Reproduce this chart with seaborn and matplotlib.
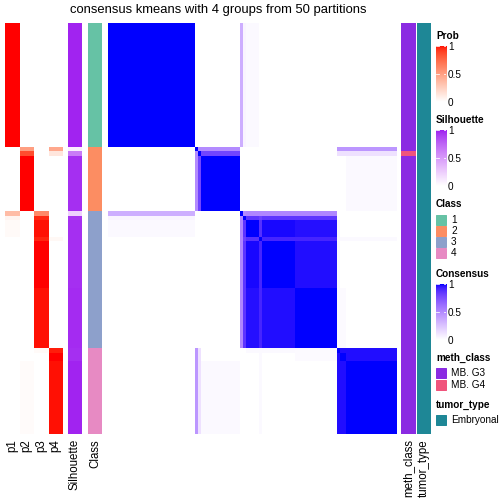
import numpy as np
import matplotlib
matplotlib.use("Agg")
import matplotlib.pyplot as plt
from matplotlib.colors import ListedColormap
from matplotlib.patches import Rectangle
import seaborn as sns

# sample blocks in display order (sub-groups of the 4 classes)
block_names = ["1", "2x", "2y", "2", "3x", "3y", "3a", "3b0", "3b", "3c", "4x", "4a", "4b"]
block_sizes = [29, 1, 1, 13, 1, 1, 4, 1, 11, 14, 1, 2, 17]
block_class = [1, 2, 2, 2, 3, 3, 3, 3, 3, 3, 4, 4, 4]
prob_p1 = [1.0, 0, 0, 0, 0.35, 0.06, 0.03, 0, 0, 0, 0, 0, 0]
prob_p2 = [0, 0.5, 0.85, 1.0, 0, 0, 0, 0, 0, 0, 0, 0, 0.02]
prob_p3 = [0, 0, 0, 0, 0.6, 0.95, 0.985, 0.96, 1.0, 0.985, 0.03, 0, 0]
prob_p4 = [0, 0.45, 0.13, 0, 0, 0, 0, 0.04, 0, 0, 0.97, 1.0, 0.985]
silhouette = [0.99, 0.08, 0.65, 0.96, 0.22, 0.94, 0.96, 0.96, 0.96, 0.97, 0.96, 0.96, 0.99]
meth_class = ["MB. G3", "MB. G3", "MB. G4", "MB. G3", "MB. G3", "MB. G3", "MB. G3",
              "MB. G3", "MB. G3", "MB. G3", "MB. G3", "MB. G3", "MB. G3"]
tumor_type = ["Embryonal"] * 13

# consensus between blocks (symmetric, 1 inside a block, 0 if not listed)
block_consensus = {
    ("1", "3x"): 0.35, ("1", "3y"): 0.05, ("1", "3a"): 0.03,
    ("2x", "2y"): 0.5, ("2x", "2"): 0.5,
    ("2x", "4x"): 0.45, ("2x", "4a"): 0.45, ("2x", "4b"): 0.45,
    ("2y", "2"): 0.8, ("2y", "4x"): 0.13, ("2y", "4a"): 0.13, ("2y", "4b"): 0.13,
    ("2", "4b"): 0.03,
    ("3x", "3y"): 0.5, ("3x", "3a"): 0.52, ("3x", "3b0"): 0.52, ("3x", "3b"): 0.52, ("3x", "3c"): 0.52,
    ("3y", "3a"): 0.86, ("3y", "3b0"): 0.82, ("3y", "3b"): 0.86, ("3y", "3c"): 0.86,
    ("3a", "3b0"): 0.88, ("3a", "3b"): 0.985, ("3a", "3c"): 0.975,
    ("3b0", "3b"): 0.92, ("3b0", "3c"): 0.92, ("3b", "3c"): 0.98,
    ("3b0", "4x"): 0.03, ("3b0", "4a"): 0.03, ("3b0", "4b"): 0.03,
    ("3c", "4x"): 0.02, ("3c", "4a"): 0.02,
    ("4x", "3a"): 0.03, ("4x", "3b"): 0.03,
    ("4x", "4a"): 0.98, ("4x", "4b"): 0.98, ("4a", "4b"): 0.98,
}

class_colors = ["#66C2A5", "#FC8D62", "#8DA0CB", "#E78AC3"]
meth_levels = ["MB. G3", "MB. G4"]
meth_colors = ["#8A2BE2", "#F0547C"]
tumor_levels = ["Embryonal"]
tumor_colors = ["#1E8796"]


def _to_lab(rgb):
    c = np.asarray(rgb, float)
    c = np.where(c <= 0.04045, c / 12.92, ((c + 0.055) / 1.055) ** 2.4)
    m = np.array([[0.4124, 0.3576, 0.1805], [0.2126, 0.7152, 0.0722], [0.0193, 0.1192, 0.9505]])
    xyz = m @ c / np.array([0.95047, 1.0, 1.08883])
    f = np.where(xyz > 0.008856, np.cbrt(xyz), 7.787 * xyz + 16 / 116)
    return np.array([116 * f[1] - 16, 500 * (f[0] - f[1]), 200 * (f[1] - f[2])])


def _from_lab(lab):
    L, a, b = lab
    fy = (L + 16) / 116
    fx = fy + a / 500
    fz = fy - b / 200
    f = np.array([fx, fy, fz])
    xyz = np.where(f ** 3 > 0.008856, f ** 3, (f - 16 / 116) / 7.787) * np.array([0.95047, 1.0, 1.08883])
    m = np.array([[3.2406, -1.5372, -0.4986], [-0.9689, 1.8758, 0.0415], [0.0557, -0.2040, 1.0570]])
    c = m @ xyz
    c = np.where(c <= 0.0031308, 12.92 * c, 1.055 * np.clip(c, 0, None) ** (1 / 2.4) - 0.055)
    return np.clip(c, 0, 1)


def lab_cmap(hi, n=256):
    """white -> hi, interpolated in LAB like colorRamp2."""
    lo_lab = _to_lab([1, 1, 1])
    hi_lab = _to_lab(matplotlib.colors.to_rgb(hi))
    cols = [_from_lab(lo_lab + t * (hi_lab - lo_lab)) for t in np.linspace(0, 1, n)]
    return ListedColormap(cols)


prob_cmap = lab_cmap("#FF0000")
sil_cmap = lab_cmap("#A020F0")
cons_cmap = lab_cmap("#0000FF")

# expand blocks to samples
sizes = np.array(block_sizes)
nb = len(block_names)
bmat = np.eye(nb)
for (a, b), v in block_consensus.items():
    i, j = block_names.index(a), block_names.index(b)
    bmat[i, j] = bmat[j, i] = v
idx = np.repeat(np.arange(nb), sizes)
consensus = bmat[np.ix_(idx, idx)]
prob = np.column_stack([np.repeat(p, sizes) for p in (prob_p1, prob_p2, prob_p3, prob_p4)])
sil = np.repeat(silhouette, sizes)[:, None]
cls = np.repeat(block_class, sizes)[:, None] - 1
meth = np.repeat([meth_levels.index(m) for m in meth_class], sizes)[:, None]
tumor = np.repeat([tumor_levels.index(t) for t in tumor_type], sizes)[:, None]

W = H = 504
fig = plt.figure(figsize=(7, 7), dpi=72)
plt.rcParams["font.family"] = ["Liberation Sans", "DejaVu Sans"]


def px_axes(x0, x1, y0, y1):
    return fig.add_axes([x0 / W, 1 - y1 / H, (x1 - x0) / W, (y1 - y0) / H])


top, bottom = 23, 434
lab_kw = dict(rotation=90, fontsize=11.5)


def strip(x0, x1, data, cmap, labels, vmin=0, vmax=1):
    ax = px_axes(x0, x1, top, bottom)
    sns.heatmap(data, ax=ax, cmap=cmap, vmin=vmin, vmax=vmax, cbar=False,
                xticklabels=False, yticklabels=False)
    ax.set_xticks(np.arange(data.shape[1]) + 0.5)
    ax.set_xticklabels(labels, **lab_kw)
    ax.tick_params(axis="x", length=0, pad=5)
    return ax


strip(5, 63, prob, prob_cmap, ["p1", "p2", "p3", "p4"])
strip(68, 82, sil, sil_cmap, ["Silhouette"])
strip(88, 102, cls, ListedColormap(class_colors), ["Class"], vmin=-0.5, vmax=3.5)
ax = px_axes(108, 397, top, bottom)
sns.heatmap(consensus, ax=ax, cmap=cons_cmap, vmin=0, vmax=1, cbar=False,
            xticklabels=False, yticklabels=False)
strip(401, 416, meth, ListedColormap(meth_colors), ["meth_class"], vmin=-0.5, vmax=1.5)
strip(417, 431, tumor, ListedColormap(tumor_colors), ["tumor_type"], vmin=-0.5, vmax=0.5)

fig.text(218 / W, 1 - 10 / H, "consensus kmeans with 4 groups from 50 partitions",
         ha="center", va="center", fontsize=13)

# legends
lx = 436
fs = 10


def color_legend(title, ytitle, y0, y1, cmap):
    fig.text(lx / W, 1 - ytitle / H, title, fontsize=fs, fontweight="bold", va="center")
    cax = px_axes(lx, lx + 10, y0, y1)
    cax.imshow(np.linspace(1, 0, 100)[:, None], cmap=cmap, aspect="auto",
               extent=[0, 1, 0, 1], vmin=0, vmax=1)
    for t in (0.5, 1.0):
        cax.plot([0, 0.25], [t, t], color="white", lw=0.8)
        cax.plot([0.75, 1], [t, t], color="white", lw=0.8)
    cax.set_xlim(0, 1)
    cax.set_ylim(0, 1)
    cax.set_xticks([])
    cax.yaxis.tick_right()
    cax.set_yticks([0, 0.5, 1])
    cax.set_yticklabels(["0", "0.5", "1"], fontsize=fs)
    cax.tick_params(axis="y", length=0, pad=2)
    for s in cax.spines.values():
        s.set_visible(False)


def box_legend(title, ytitle, ys, labels, colors):
    fig.text(lx / W, 1 - ytitle / H, title, fontsize=fs, fontweight="bold", va="center")
    for y, lab, col in zip(ys, labels, colors):
        fig.patches.append(Rectangle((lx / W, 1 - (y + 5) / H), 10 / W, 10 / H,
                                     transform=fig.transFigure, color=col))
        fig.text((lx + 15) / W, 1 - y / H, lab, fontsize=fs, va="center")


color_legend("Prob", 36, 46, 102, prob_cmap)
color_legend("Silhouette", 120, 130, 186, sil_cmap)
box_legend("Class", 204, [220, 231, 242, 253], ["1", "2", "3", "4"], class_colors)
color_legend("Consensus", 274, 284, 340, cons_cmap)
box_legend("meth_class", 358, [373, 385], meth_levels, meth_colors)
box_legend("tumor_type", 405, [420], tumor_levels, tumor_colors)

fig.savefig("out.png", dpi=72)
